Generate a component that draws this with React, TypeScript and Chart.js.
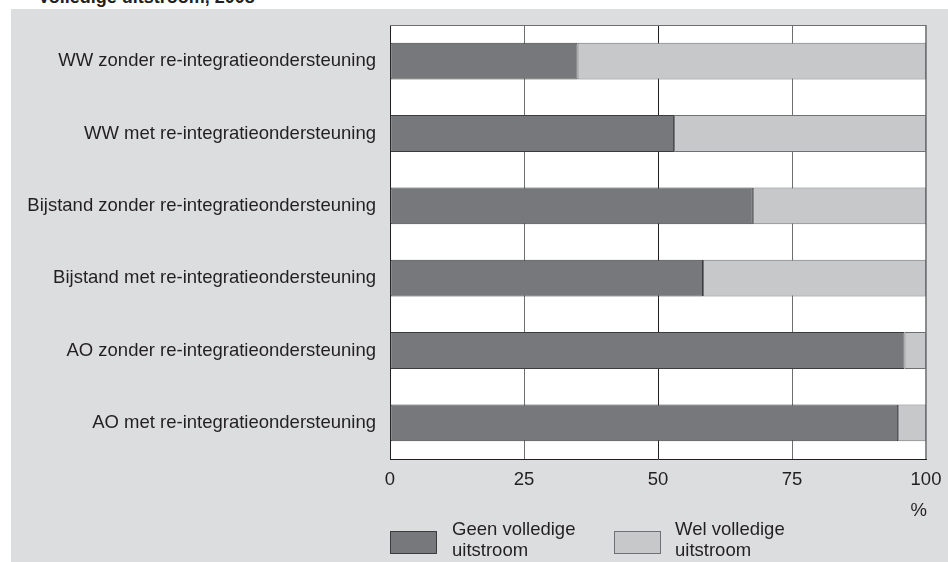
import React, { useEffect, useRef } from "react";
import { Chart, registerables } from "chart.js";

Chart.register(...registerables);

const categories = [
  "WW zonder re-integratieondersteuning",
  "WW met re-integratieondersteuning",
  "Bijstand zonder re-integratieondersteuning",
  "Bijstand met re-integratieondersteuning",
  "AO zonder re-integratieondersteuning",
  "AO met re-integratieondersteuning",
];
const geenValues = [35, 53, 67.7, 58.4, 96, 94.8];
const welValues = [65, 47, 32.3, 41.6, 4, 5.2];
const xTickValues = [0, 25, 50, 75, 100];
const seriesNames = [["Geen volledige", "uitstroom"], ["Wel volledige", "uitstroom"]];
const titleText = "Volledige uitstroom, 2008";
const unitText = "%";

const DARK = "#77787b";
const LIGHT = "#c7c8ca";
const DARK_BORDER = "#3c3c3e";
const LIGHT_BORDER = "#6f7073";
const PANEL = "#dcdddf";
const TEXT = "#231f20";
const FONT = "'Liberation Sans', Arial, Helvetica, sans-serif";

const areaPlugin = {
  id: "areaPlugin",
  beforeDraw(chart: any) {
    const { ctx, chartArea } = chart;
    ctx.save();
    ctx.fillStyle = "#ffffff";
    ctx.fillRect(chartArea.left, chartArea.top, chartArea.right - chartArea.left, chartArea.bottom - chartArea.top);
    ctx.restore();
  },
  afterDatasetsDraw(chart: any) {
    const { ctx, chartArea } = chart;
    ctx.save();
    ctx.strokeStyle = "#6d6e71";
    ctx.lineWidth = 1;
    ctx.beginPath();
    ctx.moveTo(chartArea.left, chartArea.top + 0.5);
    ctx.lineTo(chartArea.right, chartArea.top + 0.5);
    ctx.stroke();
    ctx.restore();
  },
};

export default function App() {
  const canvasRef = useRef<HTMLCanvasElement | null>(null);

  useEffect(() => {
    if (!canvasRef.current) return;
    const chart = new Chart(canvasRef.current, {
      type: "bar",
      data: {
        labels: categories,
        datasets: [
          {
            label: seriesNames[0].join(" "),
            data: geenValues,
            backgroundColor: DARK,
            borderColor: DARK_BORDER,
            borderWidth: 1,
            borderSkipped: false,
            categoryPercentage: 1,
            barPercentage: 0.51,
          },
          {
            label: seriesNames[1].join(" "),
            data: welValues,
            backgroundColor: LIGHT,
            borderColor: LIGHT_BORDER,
            borderWidth: 1,
            borderSkipped: false,
            categoryPercentage: 1,
            barPercentage: 0.51,
          },
        ],
      },
      options: {
        indexAxis: "y",
        animation: false,
        responsive: true,
        maintainAspectRatio: false,
        layout: { padding: { top: 25, right: 22, bottom: 0, left: 0 } },
        plugins: {
          legend: { display: false },
          tooltip: { enabled: false },
          title: { display: false },
        },
        scales: {
          x: {
            type: "linear",
            stacked: true,
            min: 0,
            max: 100,
            afterBuildTicks: (scale: any) => {
              scale.ticks = xTickValues.map((v) => ({ value: v }));
            },
            afterFit: (scale: any) => {
              scale.height = 103;
              scale.paddingLeft = 0;
              scale.paddingRight = 0;
            },
            grid: {
              drawTicks: false,
              color: (ctx: any) => {
                const v = ctx.tick ? ctx.tick.value : 0;
                if (v === 0 || v === 50) return TEXT;
                if (v === 100) return "#8a8b8d";
                return "#6d6e71";
              },
              lineWidth: (ctx: any) => {
                const v = ctx.tick ? ctx.tick.value : 0;
                return v === 100 ? 2 : 1;
              },
            },
            border: { display: true, color: TEXT, width: 1 },
            ticks: {
              padding: 10,
              color: TEXT,
              font: { family: FONT, size: 18.5 },
              maxRotation: 0,
            },
          },
          y: {
            type: "category",
            stacked: true,
            afterFit: (scale: any) => {
              scale.width = 390;
              scale.paddingTop = 0;
              scale.paddingBottom = 0;
            },
            grid: { display: false, drawTicks: false },
            border: { display: true, color: TEXT, width: 1 },
            ticks: {
              padding: 14,
              color: TEXT,
              font: { family: FONT, size: 18.5 },
            },
          },
        },
      },
      plugins: [areaPlugin],
    } as any);
    return () => chart.destroy();
  }, []);

  const textStyle: React.CSSProperties = {
    position: "absolute",
    fontFamily: FONT,
    fontSize: "18.5px",
    lineHeight: "20.5px",
    color: TEXT,
    whiteSpace: "nowrap",
  };

  return (
    <div
      style={{
        position: "absolute",
        left: 0,
        top: 0,
        width: 948,
        height: 562,
        overflow: "hidden",
        background: "#ffffff",
      }}
    >
      <div
        style={{
          position: "absolute",
          left: 38,
          top: -13,
          fontFamily: FONT,
          fontWeight: "bold",
          fontSize: "18px",
          lineHeight: "20px",
          color: TEXT,
          whiteSpace: "nowrap",
        }}
      >
        {titleText}
      </div>
      <div style={{ position: "absolute", left: 11, top: 9, right: 0, bottom: 0, background: PANEL }} />
      <div style={{ position: "absolute", left: 0, top: 0, width: 948, height: 562 }}>
        <canvas ref={canvasRef} />
      </div>
      <div style={{ ...textStyle, left: 860, width: 67, top: 500, textAlign: "right" }}>{unitText}</div>
      <div
        style={{
          position: "absolute",
          left: 390,
          top: 531,
          width: 47,
          height: 23,
          boxSizing: "border-box",
          background: DARK,
          border: `1px solid ${DARK_BORDER}`,
        }}
      />
      <div style={{ ...textStyle, left: 452, top: 519 }}>
        {seriesNames[0][0]}
        <br />
        {seriesNames[0][1]}
      </div>
      <div
        style={{
          position: "absolute",
          left: 614,
          top: 531,
          width: 47,
          height: 23,
          boxSizing: "border-box",
          background: LIGHT,
          border: `1px solid ${LIGHT_BORDER}`,
        }}
      />
      <div style={{ ...textStyle, left: 675, top: 519 }}>
        {seriesNames[1][0]}
        <br />
        {seriesNames[1][1]}
      </div>
    </div>
  );
}
